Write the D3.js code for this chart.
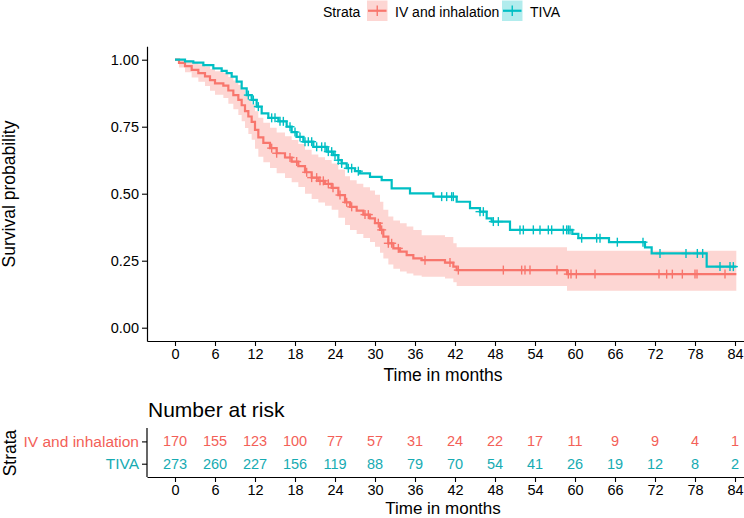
<!DOCTYPE html>
<html><head><meta charset="utf-8">
<script src="https://cdn.jsdelivr.net/npm/d3@7"></script>
<style>body{margin:0;background:#fff} svg{display:block} text{font-family:"Liberation Sans",Arial,sans-serif}</style>
</head><body>
<svg id="c" width="744" height="518"></svg>
<script>
const strata = ["IV and inhalation", "TIVA"];
const colors = ["#F8766D", "#00BFC4"];
const textColors = ["#F35F58", "#17ABB2"];
const timeTicks = [0, 6, 12, 18, 24, 30, 36, 42, 48, 54, 60, 66, 72, 78, 84];
const yTicks = [0, 0.25, 0.5, 0.75, 1];
const yTickLabels = ["0.00", "0.25", "0.50", "0.75", "1.00"];
const endTime = 84.2;

const ivTime = [0, 0.6, 1.5, 2.5, 3.5, 4.5, 5.25, 6.0, 7.25, 8.0, 8.75, 9.5, 10.0, 10.5, 11.0, 11.5, 12.0, 12.5, 13.25, 14.25, 15.25, 16.5, 17.5, 18.5, 19.5, 20.5, 21.5, 22.5, 23.5, 24.5, 25.5, 26.25, 27.25, 28.25, 29.25, 30.0, 30.75, 31.25, 32.0, 32.75, 33.75, 34.75, 35.75, 37.0, 40.5, 41.75, 42.25, 58.8];
const ivSurv = [1.000, 0.988, 0.976, 0.962, 0.950, 0.938, 0.924, 0.912, 0.903, 0.885, 0.868, 0.850, 0.830, 0.808, 0.788, 0.768, 0.738, 0.710, 0.690, 0.670, 0.651, 0.635, 0.620, 0.603, 0.580, 0.560, 0.548, 0.537, 0.522, 0.495, 0.468, 0.451, 0.437, 0.422, 0.408, 0.390, 0.365, 0.340, 0.315, 0.296, 0.284, 0.271, 0.259, 0.252, 0.243, 0.228, 0.215, 0.200];
const ivLower = [1.000, 0.971, 0.953, 0.934, 0.918, 0.902, 0.884, 0.869, 0.857, 0.836, 0.815, 0.794, 0.770, 0.745, 0.723, 0.701, 0.668, 0.638, 0.617, 0.596, 0.576, 0.559, 0.543, 0.525, 0.500, 0.480, 0.467, 0.455, 0.440, 0.410, 0.383, 0.365, 0.350, 0.335, 0.320, 0.302, 0.280, 0.258, 0.236, 0.220, 0.210, 0.202, 0.195, 0.190, 0.184, 0.170, 0.156, 0.138];
const ivUpper = [1.000, 1.000, 0.999, 0.991, 0.983, 0.975, 0.965, 0.957, 0.950, 0.935, 0.922, 0.906, 0.889, 0.870, 0.852, 0.834, 0.808, 0.783, 0.765, 0.746, 0.728, 0.714, 0.700, 0.685, 0.664, 0.646, 0.636, 0.626, 0.613, 0.590, 0.565, 0.550, 0.537, 0.524, 0.512, 0.496, 0.470, 0.440, 0.415, 0.400, 0.390, 0.378, 0.365, 0.345, 0.338, 0.315, 0.300, 0.287];
const ivCensor = [14.5, 15.25, 17.25, 18.25, 19.75, 20.5, 21.25, 21.75, 22.25, 23.0, 23.7, 24.75, 25.75, 26.5, 28.5, 29.0, 30.5, 31.0, 32.0, 32.5, 33.5, 37.5, 41.25, 42.5, 49.25, 52.0, 52.5, 53.25, 57.3, 59.0, 59.4, 60.2, 63.0, 72.6, 73.75, 74.6, 76.1, 78.0, 78.3, 82.5];

const tivaTime = [0, 1.5, 2.75, 4.25, 5.75, 7.0, 7.75, 8.5, 9.25, 10.0, 10.75, 11.5, 12.25, 13.0, 14.0, 15.5, 16.75, 17.5, 18.25, 19.25, 20.75, 22.75, 23.75, 24.5, 25.0, 25.75, 27.0, 27.75, 29.25, 31.0, 32.5, 35.25, 38.75, 42.25, 44.25, 45.75, 46.75, 47.5, 50.25, 59.6, 60.5, 65.1, 70.5, 71.5, 79.75];
const tivaSurv = [1.000, 0.994, 0.989, 0.980, 0.968, 0.958, 0.950, 0.937, 0.918, 0.893, 0.868, 0.850, 0.825, 0.800, 0.783, 0.770, 0.750, 0.730, 0.712, 0.694, 0.675, 0.657, 0.644, 0.625, 0.613, 0.595, 0.584, 0.576, 0.563, 0.551, 0.520, 0.501, 0.489, 0.470, 0.446, 0.433, 0.408, 0.396, 0.365, 0.350, 0.334, 0.319, 0.300, 0.277, 0.228];
const tivaCensor = [11.0, 11.75, 12.5, 14.5, 15.0, 15.75, 16.25, 17.25, 18.0, 18.75, 19.5, 20.0, 20.5, 21.25, 22.0, 22.5, 23.0, 23.5, 24.0, 24.5, 25.0, 26.0, 26.5, 27.5, 40.0, 40.75, 41.5, 41.75, 45.75, 46.25, 47.75, 48.5, 51.75, 52.25, 53.75, 54.75, 56.0, 56.5, 58.25, 58.75, 59.0, 59.25, 61.0, 63.25, 63.75, 66.35, 70.2, 72.75, 76.65, 78.35, 79.15, 81.75, 83.25, 83.75];

const riskIV = [170, 155, 123, 100, 77, 57, 31, 24, 22, 17, 11, 9, 9, 4, 1];
const riskTIVA = [273, 260, 227, 156, 119, 88, 79, 70, 54, 41, 26, 19, 12, 8, 2];

const svg = d3.select("#c");
const FONT = '"Liberation Sans",Arial,sans-serif';

const x = d3.scaleLinear().domain([-4.2, 88.2]).range([147, 763]);
const y = d3.scaleLinear().domain([-0.05, 1.05]).range([341.1, 46.3]);

function pts(times, vals) {
  const p = times.map((t, i) => ({t: t, s: vals[i]}));
  p.push({t: endTime, s: vals[vals.length - 1]});
  return p;
}
function survAt(times, vals, t) {
  let i = d3.bisectRight(times, t) - 1;
  return vals[Math.max(0, i)];
}

// CI band (IV and inhalation)
const band = ivTime.map((t, i) => ({t: t, lo: ivLower[i], hi: ivUpper[i]}));
band.push({t: endTime, lo: ivLower[ivLower.length - 1], hi: ivUpper[ivUpper.length - 1]});
svg.append("path").datum(band)
  .attr("d", d3.area().curve(d3.curveStepAfter).x(d => x(d.t)).y0(d => y(d.lo)).y1(d => y(d.hi)))
  .attr("fill", colors[0]).attr("fill-opacity", 0.3);

const line = d3.line().curve(d3.curveStepAfter).x(d => x(d.t)).y(d => y(d.s));
const groups = [
  {time: ivTime, surv: ivSurv, cens: ivCensor, col: colors[0]},
  {time: tivaTime, surv: tivaSurv, cens: tivaCensor, col: colors[1]}
];
groups.forEach(g => {
  svg.append("path").datum(pts(g.time, g.surv)).attr("d", line)
    .attr("fill", "none").attr("stroke", g.col).attr("stroke-width", 2.2);
  const cg = svg.append("g").attr("stroke", g.col).attr("stroke-width", 1.4);
  g.cens.forEach(t => {
    const cx = x(t), cy = y(survAt(g.time, g.surv, t));
    cg.append("line").attr("x1", cx).attr("x2", cx).attr("y1", cy - 4.5).attr("y2", cy + 4.5);
    cg.append("line").attr("x1", cx - 4.5).attr("x2", cx + 4.5).attr("y1", cy).attr("y2", cy);
  });
});

// Axes main
const yAxis = d3.axisLeft(y).tickValues(yTicks).tickFormat((d, i) => yTickLabels[i]).tickSize(5).tickSizeOuter(0).tickPadding(3);
const gy = svg.append("g").attr("transform", "translate(147,0)").call(yAxis);
const xAxis = d3.axisBottom(x).tickValues(timeTicks).tickSize(5).tickSizeOuter(0).tickPadding(3);
const gx = svg.append("g").attr("transform", "translate(0,341)").call(xAxis);
[gy, gx].forEach(g => {
  g.select(".domain").attr("stroke", "#000").attr("stroke-width", 1.2);
  g.selectAll(".tick line").attr("stroke", "#000").attr("stroke-width", 1.1);
  g.selectAll(".tick text").attr("fill", "#000").style("font-size", "14.5px").style("font-family", FONT);
});

svg.append("text").attr("x", 443).attr("y", 381).attr("text-anchor", "middle")
  .style("font-size", "17.5px").text("Time in months");
svg.append("text").attr("transform", "translate(15,194) rotate(-90)").attr("text-anchor", "middle")
  .style("font-size", "17.5px").text("Survival probability");

// Legend
const lg = svg.append("g");
lg.append("text").attr("x", 323).attr("y", 16.5).style("font-size", "14px").text("Strata");
const legendItems = [{x: 367, tx: 395}, {x: 502, tx: 530}];
strata.forEach((s, i) => {
  const li = legendItems[i];
  lg.append("rect").attr("x", li.x).attr("y", 0.5).attr("width", 20.5).attr("height", 20.5)
    .attr("fill", colors[i]).attr("fill-opacity", 0.3);
  lg.append("line").attr("x1", li.x + 1).attr("x2", li.x + 19.5).attr("y1", 10.75).attr("y2", 10.75)
    .attr("stroke", colors[i]).attr("stroke-width", 2.2);
  lg.append("line").attr("x1", li.x + 10.25).attr("x2", li.x + 10.25).attr("y1", 5.5).attr("y2", 16)
    .attr("stroke", colors[i]).attr("stroke-width", 1.4);
  lg.append("text").attr("x", li.tx).attr("y", 16.5).style("font-size", "14px").text(s);
});

// Risk table
svg.append("text").attr("x", 148).attr("y", 417).style("font-size", "21px").text("Number at risk");
const yr = d3.scalePoint().domain(strata).range([441.4, 463.7]);
const yrAxis = d3.axisLeft(yr).tickSize(5).tickSizeOuter(0).tickPadding(3);
const gyr = svg.append("g").attr("transform", "translate(147,0)").call(yrAxis);
gyr.select(".domain").attr("d", "M0,428V477").attr("stroke", "#000").attr("stroke-width", 1.2);
gyr.selectAll(".tick line").attr("stroke", "#000").attr("stroke-width", 1.1);
gyr.selectAll(".tick text").style("font-size", "15.5px").style("font-family", FONT)
  .attr("fill", (d, i) => textColors[i]);
const gxr = svg.append("g").attr("transform", "translate(0,477)").call(xAxis);
gxr.select(".domain").attr("stroke", "#000").attr("stroke-width", 1.2);
gxr.selectAll(".tick line").attr("stroke", "#000").attr("stroke-width", 1.1);
gxr.selectAll(".tick text").attr("fill", "#000").style("font-size", "14.5px").style("font-family", FONT);

[riskIV, riskTIVA].forEach((arr, gi) => {
  svg.append("g").selectAll("text").data(arr).join("text")
    .attr("x", (d, i) => x(timeTicks[i])).attr("y", yr(strata[gi]))
    .attr("dy", "0.35em").attr("text-anchor", "middle")
    .attr("fill", textColors[gi]).style("font-size", "14.5px").text(d => d);
});

svg.append("text").attr("x", 443).attr("y", 514).attr("text-anchor", "middle")
  .style("font-size", "17px").text("Time in months");
svg.append("text").attr("transform", "translate(16,453) rotate(-90)").attr("text-anchor", "middle")
  .style("font-size", "17.5px").text("Strata");
</script></body></html>
